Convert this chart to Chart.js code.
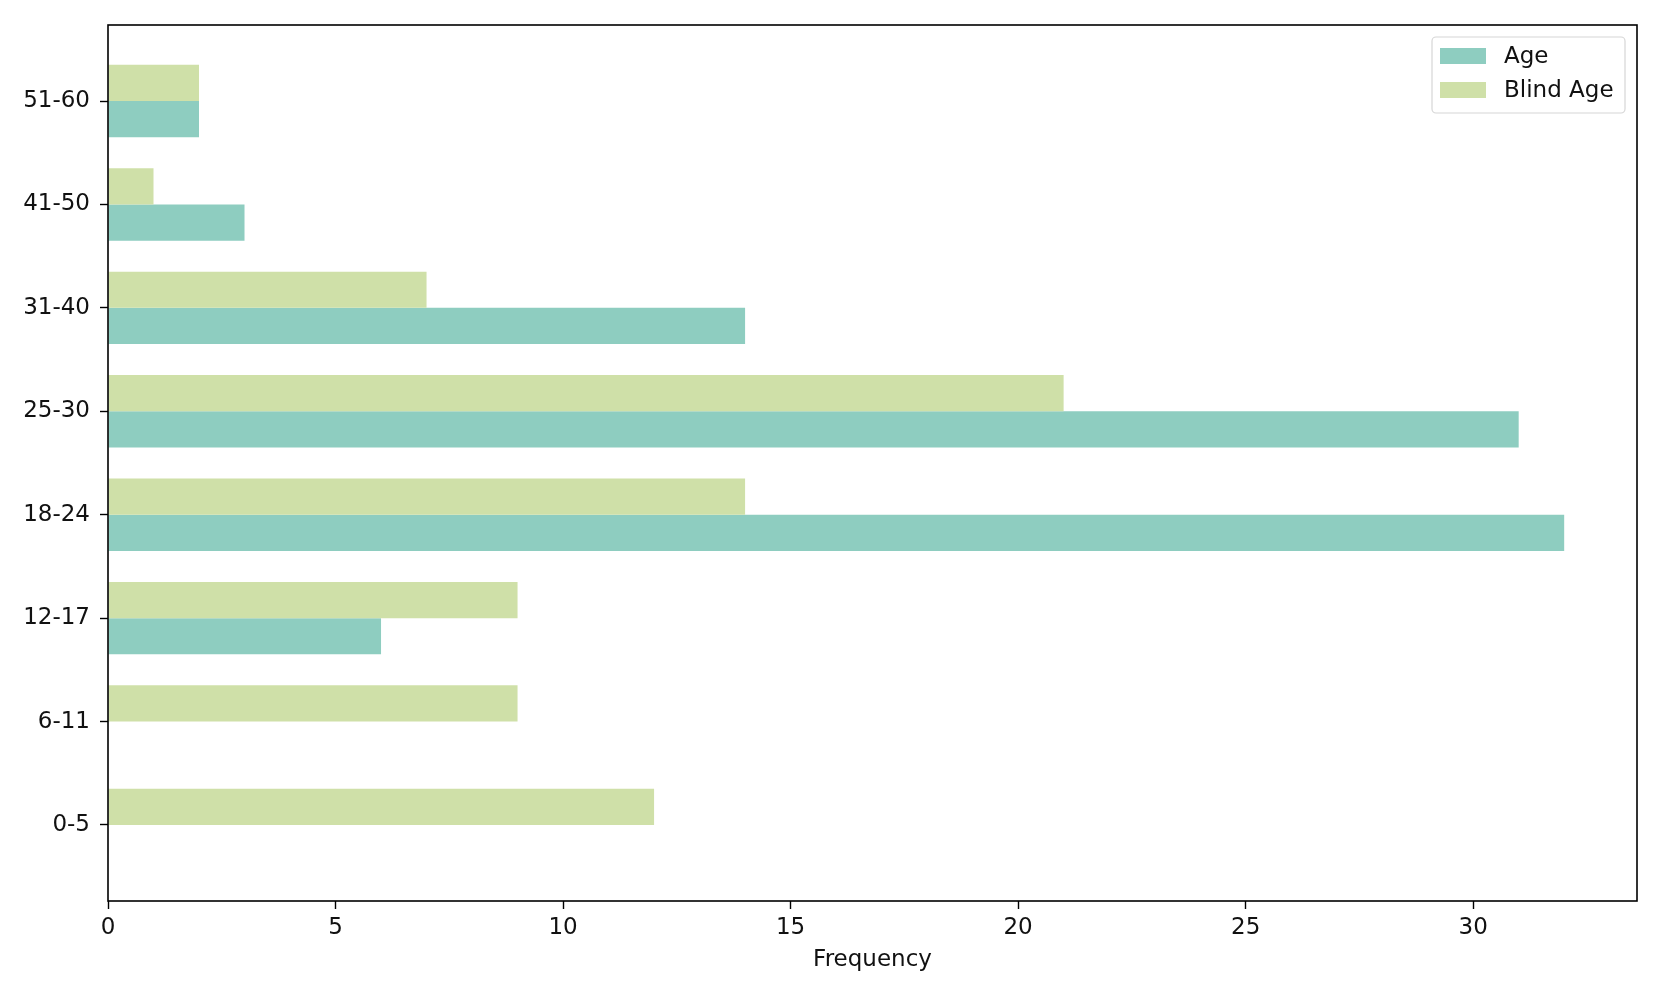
<!DOCTYPE html>
<html lang="en">
<head>
    <meta charset="UTF-8">
    <title>Age vs Blind Age</title>
    <script src="https://cdn.jsdelivr.net/npm/chart.js@4.4.0/dist/chart.umd.min.js"></script>
    <style>
        html, body { margin: 0; padding: 0; background: #fff; }
        #wrap { width: 1661px; height: 997px; }
    </style>
</head>
<body>
    <div id="wrap"><canvas id="chart" width="1661" height="997"></canvas></div>

    <script>
        // age groups, bottom to top
        const groups = ['0-5', '6-11', '12-17', '18-24', '25-30', '31-40', '41-50', '51-60'];
        const ageCounts = [0, 0, 6, 32, 31, 14, 3, 2];
        const blindAgeCounts = [12, 9, 9, 14, 21, 7, 1, 2];
        const freqTicks = [0, 5, 10, 15, 20, 25, 30];

        const ageColor = '#8ecdc0';
        const blindColor = '#cfe0a8';
        const font = { family: 'DejaVu Sans', size: 23 };

        function toPoints(values) {
            return values.map((v, i) => ({ x: v, y: i }));
        }

        // frame around the plot + legend box, drawn like matplotlib
        const framePlugin = {
            id: 'frame',
            afterDatasetsDraw(chart) {
                const { ctx, chartArea: a } = chart;
                ctx.save();
                ctx.strokeStyle = '#000';
                ctx.lineWidth = 1.6;
                ctx.strokeRect(a.left, a.top, a.right - a.left, a.bottom - a.top);
                ctx.restore();
            },
            afterDraw(chart) {
                const { ctx, chartArea: a } = chart;
                // legend order: Age, then Blind Age
                const items = [chart.data.datasets[1], chart.data.datasets[0]];
                const boxX = a.right - 205, boxY = a.top + 12, boxW = 193, boxH = 76;
                ctx.save();
                ctx.fillStyle = 'rgba(255,255,255,0.8)';
                ctx.strokeStyle = '#d6d6d6';
                ctx.lineWidth = 1.2;
                ctx.beginPath();
                ctx.roundRect(boxX, boxY, boxW, boxH, 4);
                ctx.fill();
                ctx.stroke();
                ctx.font = '23px "DejaVu Sans"';
                ctx.textBaseline = 'middle';
                items.forEach((ds, i) => {
                    const cy = boxY + 19 + i * 34;
                    ctx.fillStyle = ds.backgroundColor;
                    ctx.fillRect(boxX + 8, cy - 8, 46, 16);
                    ctx.fillStyle = '#111';
                    ctx.fillText(ds.label, boxX + 72, cy + 1);
                });
                ctx.restore();
            }
        };

        new Chart(document.getElementById('chart'), {
            type: 'bar',
            data: {
                datasets: [
                    { label: 'Blind Age', data: toPoints(blindAgeCounts), backgroundColor: blindColor },
                    { label: 'Age', data: toPoints(ageCounts), backgroundColor: ageColor }
                ]
            },
            options: {
                indexAxis: 'y',
                responsive: false,
                animation: false,
                devicePixelRatio: 1,
                categoryPercentage: 0.7,
                barPercentage: 1.0,
                borderWidth: 0,
                layout: { padding: { top: 25, right: 24, left: 0, bottom: 0 } },
                plugins: {
                    legend: { display: false },
                    tooltip: { enabled: false }
                },
                scales: {
                    x: {
                        type: 'linear',
                        min: 0,
                        max: 33.6,
                        afterBuildTicks(scale) { scale.ticks = freqTicks.map(v => ({ value: v })); },
                        afterFit(scale) { scale.height = 96; },
                        grid: { drawOnChartArea: false, tickLength: 8, tickWidth: 1.4, tickColor: '#000' },
                        border: { display: false },
                        ticks: { color: '#111', font: font, padding: 5 },
                        title: { display: true, text: 'Frequency', color: '#111', font: font, padding: { top: 4, bottom: 23 } }
                    },
                    y: {
                        type: 'linear',
                        min: -0.735,
                        max: 7.735,
                        offset: false,
                        afterBuildTicks(scale) { scale.ticks = groups.map((g, i) => ({ value: i })); },
                        afterFit(scale) { scale.width = 108; },
                        grid: { offset: false, drawOnChartArea: false, tickLength: 8, tickWidth: 1.4, tickColor: '#000' },
                        border: { display: false },
                        ticks: {
                            color: '#111',
                            font: font,
                            padding: 10,
                            callback: (v) => groups[v]
                        }
                    }
                }
            },
            plugins: [framePlugin]
        });
    </script>
</body>
</html>
